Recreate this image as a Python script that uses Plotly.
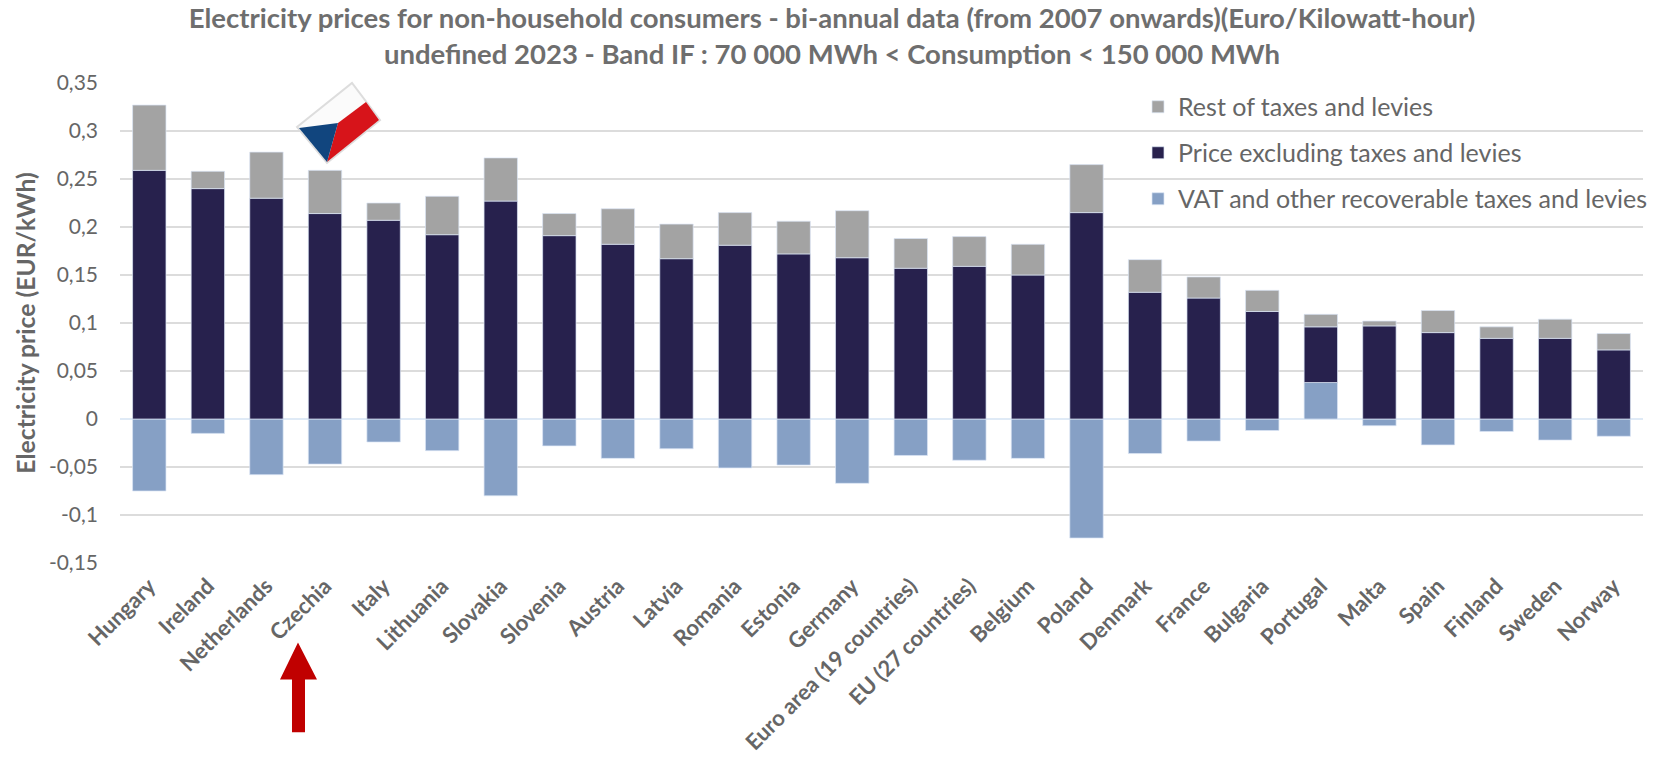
import plotly.graph_objects as go

countries = ["Hungary", "Ireland", "Netherlands", "Czechia", "Italy", "Lithuania", "Slovakia", "Slovenia",
             "Austria", "Latvia", "Romania", "Estonia", "Germany", "Euro area (19 countries)",
             "EU (27 countries)", "Belgium", "Poland", "Denmark", "France", "Bulgaria", "Portugal",
             "Malta", "Spain", "Finland", "Sweden", "Norway"]
price = [0.259, 0.240, 0.230, 0.214, 0.207, 0.192, 0.227, 0.191, 0.182, 0.167, 0.181, 0.172, 0.168,
         0.157, 0.159, 0.150, 0.215, 0.132, 0.126, 0.112, 0.058, 0.097, 0.090, 0.084, 0.084, 0.072]
rest = [0.068, 0.018, 0.048, 0.045, 0.018, 0.040, 0.045, 0.023, 0.037, 0.036, 0.034, 0.034, 0.049,
        0.031, 0.031, 0.032, 0.050, 0.034, 0.022, 0.022, 0.013, 0.005, 0.023, 0.012, 0.020, 0.017]
vat = [-0.075, -0.015, -0.058, -0.047, -0.024, -0.033, -0.080, -0.028, -0.041, -0.031, -0.051, -0.048,
       -0.067, -0.038, -0.043, -0.041, -0.124, -0.036, -0.023, -0.012, 0.038, -0.007, -0.027, -0.013,
       -0.022, -0.018]
y_ticks = [0.35, 0.3, 0.25, 0.2, 0.15, 0.1, 0.05, 0, -0.05, -0.1, -0.15]
y_labels = ["0,35", "0,3", "0,25", "0,2", "0,15", "0,1", "0,05", "0", "-0,05", "-0,1", "-0,15"]

W, H = 1655, 757
L, R, T, B = 120, 1643, 83, 563.5
FONT = "Lato, Carlito, sans-serif"
GREY = "#666666"


def px(x):
    return (x - L) / (R - L)


def py(y):
    return (B - y) / (B - T)


def poly(points, fill, line=None, width=0):
    path = "M" + " L".join(f"{px(a):.5f},{py(b):.5f}" for a, b in points) + " Z"
    return dict(type="path", xref="paper", yref="paper", path=path, fillcolor=fill,
                line=dict(color=line or fill, width=width), layer="above")


fig = go.Figure()
series = [("VAT and other recoverable taxes and levies", vat, "#86a0c5", 3),
          ("Price excluding taxes and levies", price, "#27214d", 2),
          ("Rest of taxes and levies", rest, "#a3a3a3", 1)]
for name, values, color, rank in series:
    fig.add_bar(x=countries, y=values, name=name, legendgroup=name, legendrank=rank,
                marker=dict(color=color, line=dict(color="rgba(220,230,245,0.7)", width=1)))

shapes = [
    poly([(297, 127), (352, 83), (380, 120), (327, 163)], "#fbfbfb", "#dddddd", 2),
    poly([(366, 102), (379, 120), (327, 162), (338, 123)], "#d7141a"),
    poly([(299, 128), (338, 123), (327, 162)], "#11457e"),
    poly([(298, 643), (317, 680), (305, 680), (305, 733), (292, 733), (292, 680), (280, 680)], "#c00000"),
]

fig.update_layout(
    width=W, height=H, autosize=False,
    margin=dict(l=L, r=W - R, t=T, b=H - B, pad=0, autoexpand=False),
    barmode="relative", bargap=0.43,
    plot_bgcolor="white", paper_bgcolor="white",
    font=dict(family=FONT, color=GREY, size=20),
    title=dict(
        text="<b>Electricity prices for non-household consumers - bi-annual data (from 2007 onwards)(Euro/Kilowatt-hour)"
             "<br>undefined 2023 - Band IF : 70 000 MWh &lt; Consumption &lt; 150 000 MWh</b>",
        x=832 / W, xanchor="center", y=1 - 28 / H, yanchor="top",
        font=dict(family=FONT, size=27.5, color="#6e6e6e")),
    xaxis=dict(tickangle=-45, tickfont=dict(size=22, color=GREY, weight="bold"), showgrid=False, showline=False,
               ticks="", automargin=False, range=[-0.5, 25.5], ticklabelstandoff=5),
    yaxis=dict(range=[-0.15, 0.35], tickvals=y_ticks, ticktext=y_labels, tickfont=dict(size=21, color=GREY),
               gridcolor="#dcdcdc", gridwidth=1.5, zeroline=True, zerolinecolor="#dfeaf6", zerolinewidth=1.5,
               showline=False, ticks="", automargin=False, ticklabelstandoff=21,
               title=dict(text="<b>Electricity price (EUR/kWh)</b>", font=dict(size=24.7, color=GREY), standoff=6)),
    legend=dict(x=px(1138), y=py(84), xanchor="left", yanchor="top", traceorder="grouped",
                tracegroupgap=10.5, font=dict(size=25, color=GREY), bgcolor="rgba(0,0,0,0)"),
    shapes=shapes,
)
fig.write_html("out.html", config=dict(displayModeBar=False),
               post_script="document.body.style.margin='0';document.body.style.overflow='hidden';")
